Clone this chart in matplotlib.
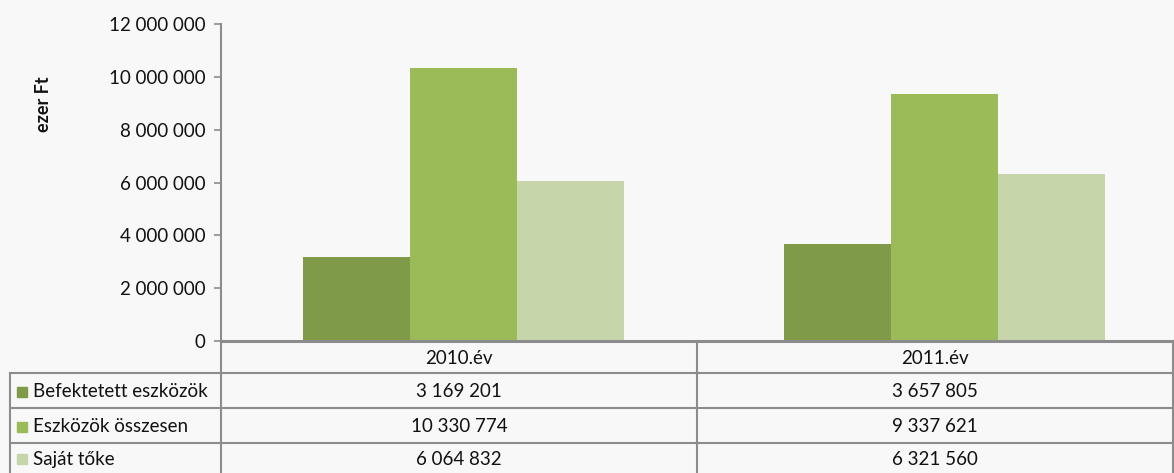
import numpy as np
import matplotlib.pyplot as plt
from matplotlib.patches import Rectangle

categories = ['2010.év', '2011.év']
series_names = ['Befektetett eszközök', 'Eszközök összesen', 'Saját tőke']
befektetett = [3169201, 3657805]
osszesen = [10330774, 9337621]
sajat = [6064832, 6321560]
series = [befektetett, osszesen, sajat]
colors = ['#7f9a48', '#9bbb59', '#c6d6aa']
yticks = [0, 2000000, 4000000, 6000000, 8000000, 10000000, 12000000]

W, H = 1174, 473
bg = '#f8f8f8'
grid_c = '#8c8c8c'
txt_c = '#111111'
fs = 13.5
plt.rcParams['font.family'] = ['Lato', 'DejaVu Sans']

fig = plt.figure(figsize=(W / 100, H / 100), dpi=100, facecolor=bg)

def fx(px):
    return px / W

def fy(py):
    return 1 - py / H

# plot area
x0, x1, ytop, ybot = 221, 1173, 24, 341
ax = fig.add_axes([fx(x0), fy(ybot), fx(x1) - fx(x0), fy(ytop) - fy(ybot)])
ax.set_facecolor(bg)

def fmt(v):
    return f'{v:,}'.replace(',', ' ')

n = len(series)
bw = 0.2225
xs = np.arange(len(categories))
for i, (vals, c) in enumerate(zip(series, colors)):
    ax.bar(xs + (i - (n - 1) / 2) * bw, vals, width=bw, color=c, zorder=2)

xmin = -0.504
ax.set_xlim(xmin, xmin + 952 / 481)
ax.set_ylim(0, 12000000)
ax.set_yticks(yticks)
ax.set_yticklabels([fmt(v) for v in yticks], fontsize=fs, color=txt_c)
ax.set_xticks([])
ax.tick_params(axis='y', length=5, width=1.2, color=grid_c, pad=6)
for s in ['top', 'right']:
    ax.spines[s].set_visible(False)
ax.spines['left'].set_color(grid_c)
ax.spines['left'].set_linewidth(1.5)
ax.spines['bottom'].set_color(grid_c)
ax.spines['bottom'].set_linewidth(2.2)
ax.set_ylabel('ezer Ft', fontsize=13, fontweight='bold', color=txt_c)
ax.yaxis.set_label_coords(-0.178, 0.748)

# data table below the plot
rows_y = [341, 373, 408, 443, 473]
col_x = [10, 221, 697, 1173]
lw = 1.5
tf = fig.transFigure
fig.add_artist(plt.Line2D([fx(10), fx(1173)], [fy(373), fy(373)], transform=tf, color=grid_c, lw=lw))
for yy in rows_y[2:-1]:
    fig.add_artist(plt.Line2D([fx(10), fx(1173)], [fy(yy), fy(yy)], transform=tf, color=grid_c, lw=lw))
fig.add_artist(plt.Line2D([fx(10), fx(10)], [fy(373), fy(473)], transform=tf, color=grid_c, lw=lw))
for xx in col_x[1:]:
    fig.add_artist(plt.Line2D([fx(xx), fx(xx)], [fy(341), fy(473)], transform=tf, color=grid_c, lw=lw))

# header row
col_centers = [(col_x[k + 1] + col_x[k + 2]) / 2 for k in range(len(categories))]
for cx, cat in zip(col_centers, categories):
    fig.text(fx(cx), fy((rows_y[0] + rows_y[1]) / 2 + 1), cat, ha='center', va='center', fontsize=fs, color=txt_c)

# series rows
for r, (name, vals, c) in enumerate(zip(series_names, series, colors)):
    yc = (rows_y[r + 1] + rows_y[r + 2]) / 2 + 1
    fig.add_artist(Rectangle((fx(17), fy(yc + 5)), fx(10), fy(yc - 5) - fy(yc + 5), transform=tf, color=c))
    fig.text(fx(33), fy(yc), name, ha='left', va='center', fontsize=fs, color=txt_c)
    for cx, v in zip(col_centers, vals):
        fig.text(fx(cx), fy(yc), fmt(v), ha='center', va='center', fontsize=fs, color=txt_c)

fig.savefig('out.png', dpi=100, facecolor=bg)
